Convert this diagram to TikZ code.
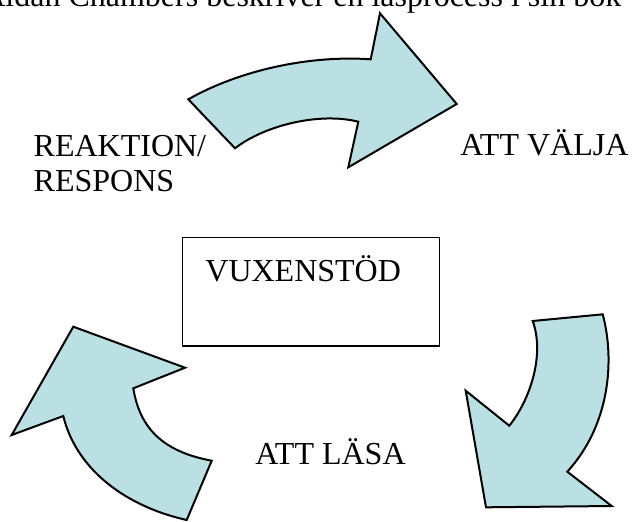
\documentclass[tikz,border=0pt]{standalone}
\usepackage{fontspec}
\setmainfont{Liberation Serif}
\definecolor{pale}{RGB}{187,224,227}
\begin{document}
\begin{tikzpicture}[x=0.5pt,y=-0.5pt]
\tikzstyle{ann} = [inner sep=0pt,font=\fontsize{16}{17.5}\selectfont]
\tikzstyle{blk} = [fill=pale,draw=black,line width=1pt,line join=miter]

\useasboundingbox (0,0) rectangle (632,521);
\clip (0,0) rectangle (632,521);

\node[ann,anchor=base east] (top) at (621.7,6.7) {Aidan Chambers beskriver en läsprocess i sin bok};

% top arrow
\draw[blk] (188.3,99.3) .. controls (240,70) and (310,55) .. (370.7,59.3) -- (380,13.3) -- (456.7,104)
  -- (348.3,167.3) -- (358.3,121.7) .. controls (320,112) and (265,125) .. (235,148.3) -- cycle;
% right arrow
\draw[blk] (532.7,321) -- (602.7,314.3) .. controls (615,360) and (610,425) .. (567.3,471.7)
  -- (611.7,506) -- (486,507.3) -- (465.7,390.7) -- (509.3,425.7)
  .. controls (530,400) and (545,355) .. (532.7,321) -- cycle;
% left arrow
\draw[blk] (73.3,326.7) -- (185,367.7) -- (133.3,388.3) .. controls (140,430) and (165,452) .. (211.7,460.7)
  -- (186.7,520) .. controls (120,505) and (75,465) .. (63.3,416) -- (11.7,435) -- cycle;

\node[draw,line width=0.75pt,minimum width=128.3pt,minimum height=54.15pt,inner sep=0pt] (box) at (311,291.85) {};
\node[ann,anchor=base west] (vux) at (205,281.7) {VUXENSTÖD};

\node[ann,anchor=base west,align=left] (reak) at (33.3,191) {REAKTION/\\RESPONS};
\node[ann,anchor=base west] (valja) at (460,155) {ATT VÄLJA};
\node[ann,anchor=base west] (lasa) at (255,464.3) {ATT LÄSA};
\end{tikzpicture}
\end{document}
